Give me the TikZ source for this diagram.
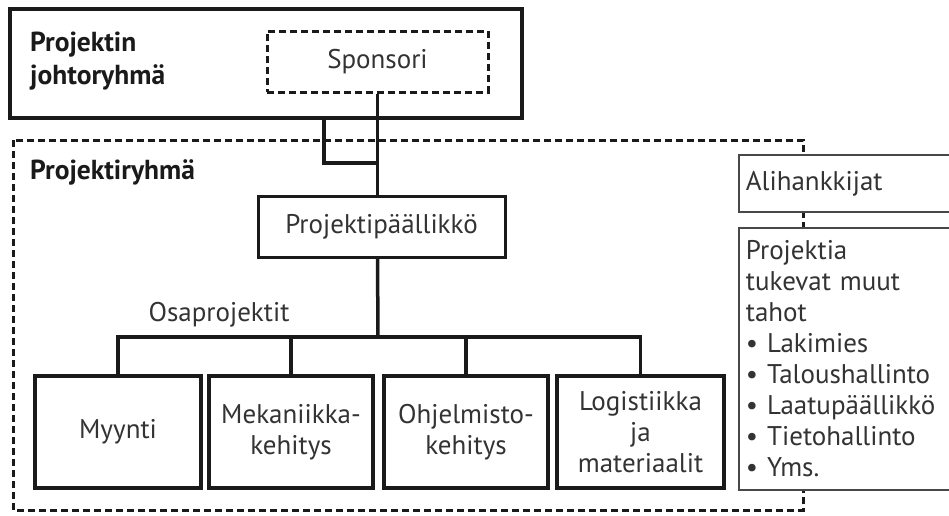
\documentclass[tikz,border=0pt]{standalone}
\usepackage{fontspec}
\setmainfont{PT Sans}
\definecolor{ink}{HTML}{1A1A1A}
\definecolor{txt}{HTML}{333333}

\tikzset{
  box/.style={draw=ink, line width=3pt, fill=white, text=txt, anchor=center, align=center, inner sep=0pt},
  unit/.style={box, line width=4.5pt, minimum height=112pt},
  side/.style={draw=ink!80, line width=1.8pt, fill=white, text=txt, align=left, text width=208pt, inner xsep=7pt, inner ysep=0pt},
  conn/.style={draw=ink, line width=3.5pt},
  grp/.style={draw=ink, line width=3pt, dash pattern=on 7pt off 4pt},
  title/.style={anchor=west, align=left, font=\fontsize{27.5}{33}\selectfont\bfseries, text=ink, inner sep=0pt}
}

\begin{document}
\begin{tikzpicture}[x=1pt, y=-1pt, font=\fontsize{27}{31}\selectfont]
  \clip (0,0) rectangle (949,515);
  \useasboundingbox (0,0) rectangle (949,515);
  \draw[grp] (13,140) rectangle (803,510);

  \node[box, line width=3.5pt, minimum width=512pt, minimum height=109pt] (johto) at (266,63.5) {};
  \node[title] (jtitle) at (30,61.5) {Projektin\\johtoryhmä};
  \node[box, grp, minimum width=221pt, minimum height=61pt] (spons) at (377.5,61.5) {Sponsori};

  \node[title] (rtitle) at (30,172) {Projektiryhmä};
  \node[box, minimum width=247pt, minimum height=61pt] (pp) at (381.5,226.5) {Projektipäällikkö};

  \node[text=txt] (osa) at (219,315) {Osaprojektit};
  \node[unit, minimum width=166pt] (myy) at (118,432) {Myynti};
  \node[unit, minimum width=164pt] (mek) at (291,432) {Mekaniikka-\\kehitys};
  \node[unit, minimum width=164pt] (ohj) at (466,432) {Ohjelmisto-\\kehitys};
  \node[unit, minimum width=167pt] (log) at (640.5,432) {Logistiikka\\ja\\materiaalit};

  \node[side, anchor=north west, minimum height=57pt] (ali) at (738,154) {Alihankkijat};
  \node[side, anchor=north west, minimum height=262pt] (tuki) at (738,227)
    {Projektia\\tukevat muut\\tahot\\\textbullet\ Lakimies\\\textbullet\ Taloushallinto\\\textbullet\ Laatupäällikkö\\\textbullet\ Tietohallinto\\\textbullet\ Yms.};

  \coordinate (lnk) at (324,118);
  \coordinate (jnt) at (378,163);
  \coordinate (bus) at (378,337);
  \draw[conn] (lnk) |- (jnt);
  \draw[conn] (spons.south) -- (spons.south |- pp.north);
  \draw[conn] (spons.south |- pp.south) -- (bus);
  \draw[conn] (myy.north) -- (myy.north |- bus) -- (log.north |- bus) -- (log.north);
  \draw[conn] (mek.north) -- (mek.north |- bus);
  \draw[conn] (ohj.north) -- (ohj.north |- bus);
\end{tikzpicture}
\end{document}
